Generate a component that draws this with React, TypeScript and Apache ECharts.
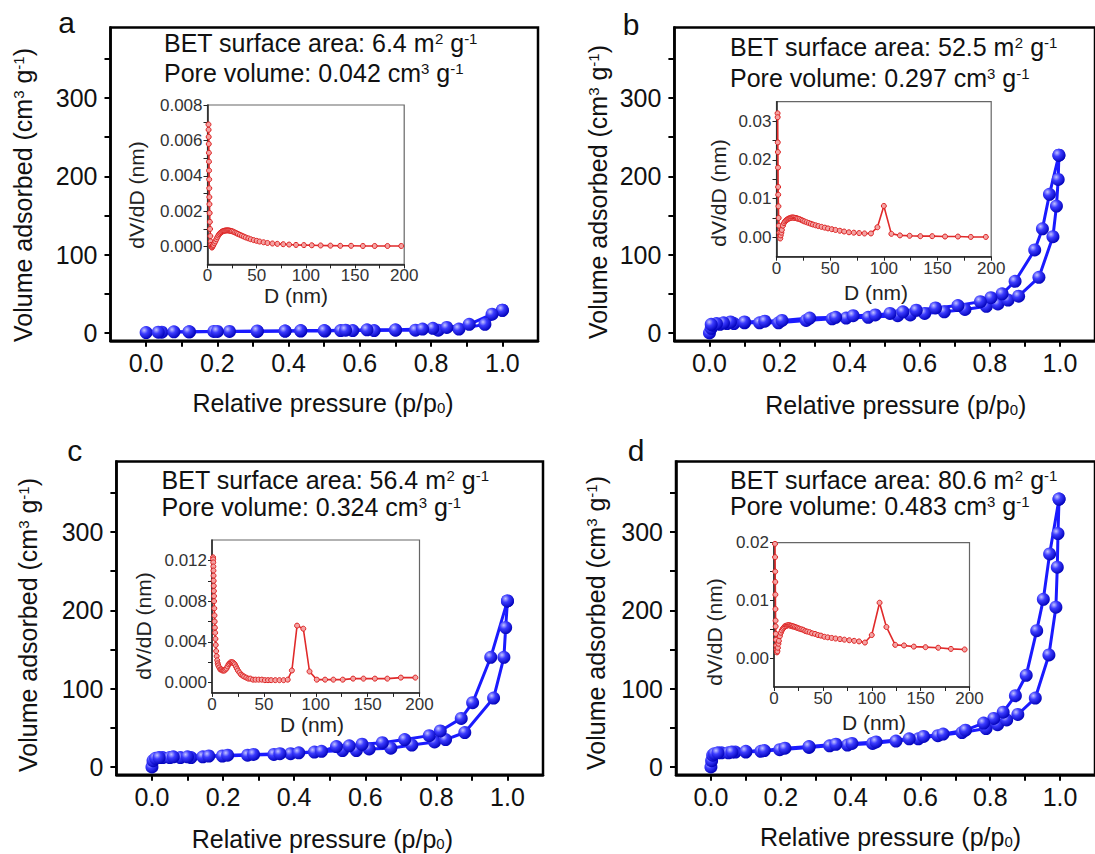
import React, { useEffect, useRef } from 'react';
import * as echarts from 'echarts';

const FONT = '"Liberation Sans", Arial, Helvetica, sans-serif';

// ---------- Isotherm data: [relative pressure, volume adsorbed] ----------
const adsA: number[][] = [[0,0.5],[0.044,1],[0.078,1.5],[0.122,1.5],[0.19,2],[0.234,2],[0.312,2],[0.39,2.5],[0.434,2.5],[0.502,2.5],[0.546,3],[0.58,3],[0.64,3],[0.70,3.5],[0.756,3.5],[0.82,3.5],[0.878,5],[0.951,11],[1.0,29]];
const desA: number[][] = [[1.0,29],[0.971,24],[0.907,11],[0.844,7],[0.805,6],[0.776,5],[0.70,4],[0.62,4],[0.56,3.5],[0.50,3],[0.434,3],[0.39,2.5],[0.312,2.5],[0.2,2],[0.12,1.5],[0.034,1]];

const adsB: number[][] = [[0,0],[0.005,6],[0.01,10],[0.03,11],[0.05,12],[0.07,12],[0.1,13],[0.143,13],[0.197,13],[0.276,16],[0.35,18],[0.39,19],[0.453,20],[0.537,22],[0.573,23],[0.614,25],[0.67,27],[0.729,30],[0.79,34],[0.823,37],[0.852,42],[0.882,47],[0.94,71],[0.98,123],[0.99,162],[0.995,196],[0.997,227]];
const desB: number[][] = [[0.997,227],[0.97,177],[0.95,133],[0.928,106],[0.872,66],[0.835,50],[0.803,45],[0.773,40],[0.709,35],[0.645,32],[0.59,29],[0.552,27],[0.515,25],[0.473,23],[0.41,22],[0.36,20],[0.286,19],[0.207,16],[0.158,15],[0.1,14],[0.06,14],[0.04,13],[0.02,12],[0.005,11]];

const adsC: number[][] = [[0,0],[0.003,8],[0.01,11],[0.03,12],[0.05,12],[0.08,12],[0.11,12],[0.143,13],[0.198,14],[0.269,15],[0.343,16],[0.39,17],[0.457,19],[0.536,21],[0.575,21],[0.611,23],[0.672,24],[0.731,28],[0.795,32],[0.826,35],[0.88,44],[0.961,88],[0.99,140],[0.995,178],[1.0,212]];
const desC: number[][] = [[1.0,212],[0.953,140],[0.902,82],[0.87,62],[0.811,46],[0.78,40],[0.711,35],[0.648,31],[0.591,29],[0.555,27],[0.519,26],[0.477,20],[0.413,18],[0.36,17],[0.286,16],[0.213,15],[0.16,14],[0.1,13],[0.06,13],[0.02,12]];

const adsD: number[][] = [[0,0],[0.002,8],[0.005,15],[0.01,17],[0.03,18],[0.05,18],[0.07,19],[0.1,19],[0.143,20],[0.197,22],[0.281,25],[0.34,27],[0.391,28],[0.463,30],[0.53,33],[0.594,36],[0.65,40],[0.719,44],[0.788,49],[0.821,54],[0.847,60],[0.879,67],[0.929,88],[0.968,143],[0.988,204],[0.992,255],[0.994,298],[0.997,342]];
const desD: number[][] = [[0.997,342],[0.97,272],[0.952,214],[0.933,174],[0.903,117],[0.872,91],[0.837,70],[0.81,62],[0.781,56],[0.729,47],[0.665,42],[0.609,39],[0.568,36],[0.473,32],[0.404,30],[0.358,29],[0.281,26],[0.212,24],[0.153,21],[0.1,20],[0.06,19],[0.02,18]];

// ---------- Pore size distribution data: [D (nm), dV/dD] ----------
const psdA: number[][] = [[1.0,0.0069],[1.1,0.0066],[1.2,0.0062],[1.3,0.0058],[1.4,0.0053],[1.5,0.0048],[1.6,0.0043],[1.7,0.0038],[1.8,0.0033],[1.9,0.0028],[2.0,0.0024],[2.2,0.0019],[2.4,0.0014],[2.6,0.001],[2.9,0.0006],[3.2,0.0003],[3.6,0.0001],[4,0.0],[4.5,-0.00005],[5,0.0],[5.5,0.00005],[6,0.0001],[7,0.0002],[8,0.0003],[9,0.00042],[10,0.00053],[11,0.00063],[12,0.00071],[13,0.00077],[14,0.00082],[15,0.00086],[16,0.00088],[17,0.0009],[18,0.00091],[19,0.00092],[20,0.00092],[21,0.00092],[22,0.00091],[23,0.0009],[24,0.00089],[25,0.00087],[26.5,0.00084],[28,0.0008],[29.5,0.00076],[31,0.00072],[33,0.00067],[35,0.00062],[37,0.00057],[39,0.00052],[41.5,0.00047],[44,0.00042],[47,0.00037],[50,0.00033],[53,0.00029],[57,0.00025],[61,0.00021],[66,0.00018],[71,0.00016],[77,0.00014],[83,0.00012],[90,0.0001],[98,0.00009],[106,0.00008],[115,0.00007],[125,0.00006],[135,0.00005],[146,0.00005],[158,0.00004],[170,0.00004],[183,0.00004],[197,0.00004]];
const psdB: number[][] = [[1.0,0.032],[1.1,0.031],[1.2,0.0245],[1.3,0.022],[1.4,0.018],[1.5,0.013],[1.6,0.011],[1.8,0.008],[2.0,0.005],[2.3,0.003],[2.6,0.0012],[3.0,0.0002],[3.5,-0.0003],[4,0.0005],[4.5,0.0012],[5,0.0019],[6,0.003],[7,0.0037],[8,0.0041],[9,0.0044],[10,0.0046],[11,0.0048],[12,0.0049],[13,0.005],[14,0.0051],[15,0.0051],[16,0.0051],[17,0.005],[18,0.005],[19,0.0049],[20,0.0048],[21.5,0.0047],[23,0.0045],[24.5,0.0043],[26,0.0041],[28,0.0039],[30,0.0037],[32,0.0035],[34,0.0033],[36.5,0.0031],[39,0.0029],[42,0.0027],[45,0.0025],[48,0.0023],[51.5,0.0021],[55,0.0019],[59,0.0017],[63,0.0015],[67.5,0.0013],[72,0.0012],[77,0.0011],[82,0.001],[88,0.001],[94,0.0026],[100,0.0081],[107,0.0009],[115,0.0005],[124,0.0004],[134,0.0003],[145,0.0003],[157,0.0002],[169,0.0002],[181,0.0001],[195,0.0001]];
const psdC: number[][] = [[1.0,0.0123],[1.1,0.0121],[1.2,0.0118],[1.3,0.0114],[1.4,0.011],[1.5,0.0105],[1.6,0.01],[1.7,0.0095],[1.8,0.009],[1.9,0.0085],[2.0,0.008],[2.2,0.0073],[2.4,0.0066],[2.6,0.006],[2.8,0.0054],[3.0,0.0049],[3.3,0.0043],[3.6,0.0037],[4.0,0.0031],[4.5,0.0026],[5,0.0022],[5.5,0.0019],[6,0.0017],[7,0.0015],[8,0.0013],[9,0.0013],[10,0.0012],[11,0.0012],[12,0.0012],[13,0.0013],[14,0.0014],[15,0.0016],[16,0.0018],[17,0.0019],[18,0.002],[19,0.002],[20,0.002],[21,0.0019],[22,0.0018],[23,0.0016],[24,0.0014],[25,0.0012],[26.5,0.001],[28,0.0008],[29.5,0.0007],[31,0.0006],[33,0.0005],[35,0.0004],[37,0.0004],[39.5,0.0003],[42,0.0003],[45,0.0003],[48,0.0003],[51,0.00025],[54,0.00025],[57,0.00025],[61,0.00025],[65,0.00025],[69,0.00025],[73,0.0003],[77,0.0012],[82,0.0056],[88,0.0053],[94,0.0011],[101,0.0003],[109,0.0003],[117,0.0003],[126,0.0003],[136,0.0004],[146,0.0004],[157,0.0004],[169,0.0004],[182,0.0005],[196,0.0005]];
const psdD: number[][] = [[1.0,0.0198],[1.1,0.0175],[1.2,0.015],[1.3,0.0132],[1.4,0.011],[1.5,0.0085],[1.6,0.0065],[1.7,0.0055],[1.9,0.0042],[2.1,0.0032],[2.3,0.0022],[2.6,0.0015],[3.0,0.001],[3.5,0.0012],[4,0.0018],[4.5,0.0025],[5,0.003],[6,0.0038],[7,0.0044],[8,0.0048],[9,0.0051],[10,0.0053],[11,0.0055],[12,0.0056],[13,0.0056],[14,0.0057],[15,0.0057],[16,0.0057],[17,0.0056],[18,0.0056],[19,0.0055],[20,0.0055],[21.5,0.0054],[23,0.0053],[24.5,0.0052],[26,0.0051],[28,0.005],[30,0.0049],[32,0.0047],[34,0.0046],[36.5,0.0045],[39,0.0043],[42,0.0042],[45,0.004],[48,0.0039],[51.5,0.0037],[55,0.0036],[59,0.0035],[63,0.0034],[67.5,0.0033],[72,0.0032],[77,0.0031],[82,0.003],[87,0.0029],[93,0.0027],[100,0.004],[108,0.0096],[115,0.0054],[124,0.0023],[133,0.0022],[143,0.002],[155,0.0019],[168,0.0018],[181,0.0016],[195,0.0015]];

// ---------- Ticks / labels ----------
const xTickValues = [0, 0.1, 0.2, 0.3, 0.4, 0.5, 0.6, 0.7, 0.8, 0.9, 1.0];
const xLabelValues = [0, 0.2, 0.4, 0.6, 0.8, 1.0];
const yTickValues = [0, 50, 100, 150, 200, 250, 300, 350];
const yLabelValues = [0, 100, 200, 300];
const insetXTickValues = [0, 25, 50, 75, 100, 125, 150, 175, 200];
const insetXLabelValues = [0, 50, 100, 150, 200];
const insetYRanges = [[-0.001, 0.008], [-0.005, 0.035], [-0.001, 0.014], [-0.005, 0.02]];
const insetYTicks = [
  [0, 0.001, 0.002, 0.003, 0.004, 0.005, 0.006, 0.007, 0.008],
  [0, 0.005, 0.01, 0.015, 0.02, 0.025, 0.03],
  [0, 0.002, 0.004, 0.006, 0.008, 0.01, 0.012],
  [0, 0.005, 0.01, 0.015, 0.02],
];
const insetYLabels = [
  [0, 0.002, 0.004, 0.006, 0.008],
  [0, 0.01, 0.02, 0.03],
  [0, 0.004, 0.008, 0.012],
  [0, 0.01, 0.02],
];
const insetYDecimals = [3, 2, 3, 2];

const panelLetters = ['a', 'b', 'c', 'd'];
const betAreas = ['6.4', '52.5', '56.4', '80.6'];
const poreVolumes = ['0.042', '0.297', '0.324', '0.483'];

const isotherms = [[adsA, desA], [adsB, desB], [adsC, desC], [adsD, desD]];
const psds = [psdA, psdB, psdC, psdD];

// ---------- Layout (pixels) ----------
const mainGrids = [
  { left: 110.5, top: 27.5, width: 427.5, height: 313.3 },
  { left: 674.4, top: 27.5, width: 427.1, height: 313.3 },
  { left: 116.4, top: 461.5, width: 426.6, height: 313.3 },
  { left: 676, top: 461.5, width: 427.2, height: 313.3 },
];
const insetGrids = [
  { left: 207.5, top: 105, width: 196.7, height: 159.4 },
  { left: 776.5, top: 101.7, width: 214.7, height: 155 },
  { left: 212, top: 540, width: 207.5, height: 152.9 },
  { left: 774, top: 542.7, width: 195.5, height: 144.3 },
];
const letterPos = [[66.7, 22], [631, 24], [74.7, 450], [636, 450]];
const notePos = [[164, 43, 73], [730, 47, 78], [161.6, 480, 507], [730, 480, 506]];
const yTitlePos = [[22.6, 195], [597.6, 192], [27.8, 625], [595.9, 623]];
const xTitlePos = [[323, 403], [895.8, 405], [322.4, 839], [890.5, 837]];
const insetYTitlePos = [[136, 195], [718, 193], [143, 626], [714, 632]];
const insetXTitlePos = [[296, 295.5], [876, 292], [312, 724.5], [874, 722]];

const TXT = '#111';
const BLUE = '#1a1aff';
const RED = '#e02a2a';

const rich = {
  m: { fontSize: 25, fontFamily: FONT, fill: TXT, lineHeight: 24 },
  s: { fontSize: 15, fontFamily: FONT, fill: TXT, lineHeight: 8, verticalAlign: 'top' },
  b: { fontSize: 15, fontFamily: FONT, fill: TXT, lineHeight: 10, verticalAlign: 'bottom' },
};

function buildOption(): any {
  const grid: any[] = [];
  const xAxis: any[] = [];
  const yAxis: any[] = [];
  const series: any[] = [];
  const graphic: any[] = [];

  const sphere = {
    type: 'radial', x: 0.35, y: 0.32, r: 0.72,
    colorStops: [
      { offset: 0, color: '#c4c4ff' },
      { offset: 0.4, color: '#3c3cff' },
      { offset: 1, color: '#0000b8' },
    ],
  };

  for (let i = 0; i < 4; i++) {
    grid.push({ ...mainGrids[i], show: true, borderColor: '#000', borderWidth: 2.5, backgroundColor: 'transparent', containLabel: false });
    xAxis.push({
      type: 'value', gridIndex: i, min: -0.1, max: 1.1,
      axisLine: { show: true, onZero: false, lineStyle: { color: '#000', width: 2.5 } },
      axisTick: { show: true, customValues: xTickValues, length: 6, lineStyle: { color: '#000', width: 2 } },
      axisLabel: { customValues: xLabelValues, formatter: (v: number) => v.toFixed(1), fontSize: 25, fontFamily: FONT, color: TXT, margin: 10 },
      splitLine: { show: false },
    });
    yAxis.push({
      type: 'value', gridIndex: i, min: -10, max: 390,
      axisLine: { show: true, onZero: false, lineStyle: { color: '#000', width: 2.5 } },
      axisTick: { show: true, customValues: yTickValues, length: 6, lineStyle: { color: '#000', width: 2 } },
      axisLabel: { customValues: yLabelValues, formatter: (v: number) => String(Math.round(v)), fontSize: 25, fontFamily: FONT, color: TXT, margin: 13 },
      splitLine: { show: false },
    });
    isotherms[i].forEach((d, k) => {
      series.push({
        type: 'line', name: (k === 0 ? 'adsorption ' : 'desorption ') + panelLetters[i],
        xAxisIndex: i, yAxisIndex: i, data: d,
        symbol: 'circle', symbolSize: 13, silent: true, z: 3,
        lineStyle: { color: BLUE, width: 3 },
        itemStyle: { color: sphere, borderWidth: 0 },
      });
    });
  }

  for (let i = 0; i < 4; i++) {
    const gi = 4 + i;
    grid.push({ ...insetGrids[i], show: true, borderColor: '#666', borderWidth: 1.2, backgroundColor: '#fff', containLabel: false });
    xAxis.push({
      type: 'value', gridIndex: gi, min: 0, max: 200,
      axisLine: { show: true, onZero: false, lineStyle: { color: '#222', width: 1.5 } },
      axisTick: { show: true, customValues: insetXTickValues, length: 4, lineStyle: { color: '#222', width: 1 } },
      axisLabel: { customValues: insetXLabelValues, formatter: (v: number) => String(Math.round(v)), fontSize: 17, lineHeight: 17, fontFamily: FONT, color: '#333', margin: 3 },
      splitLine: { show: false },
    });
    yAxis.push({
      type: 'value', gridIndex: gi, min: insetYRanges[i][0], max: insetYRanges[i][1],
      axisLine: { show: true, onZero: false, lineStyle: { color: '#222', width: 1.5 } },
      axisTick: { show: true, customValues: insetYTicks[i], length: 4, lineStyle: { color: '#222', width: 1 } },
      axisLabel: { customValues: insetYLabels[i], formatter: (v: number) => v.toFixed(insetYDecimals[i]), fontSize: 17, lineHeight: 17, fontFamily: FONT, color: '#333', margin: 5 },
      splitLine: { show: false },
    });
    series.push({
      type: 'line', name: 'PSD ' + panelLetters[i],
      xAxisIndex: gi, yAxisIndex: gi, data: psds[i],
      symbol: 'circle', symbolSize: 5, silent: true, z: 5,
      lineStyle: { color: RED, width: 1.6 },
      itemStyle: { color: '#f4a3a3', borderColor: '#dd2222', borderWidth: 1 },
    });
  }

  for (let i = 0; i < 4; i++) {
    graphic.push({
      type: 'text', x: letterPos[i][0], y: letterPos[i][1], z: 10,
      style: { text: panelLetters[i], fontSize: 30, fontFamily: FONT, fill: TXT, align: 'center', verticalAlign: 'middle' },
    });
    graphic.push({
      type: 'text', x: notePos[i][0], y: notePos[i][1], z: 10,
      style: { text: `{m|BET surface area: ${betAreas[i]} m}{s|2}{m| g}{s|-1}`, rich, align: 'left', verticalAlign: 'middle' },
    });
    graphic.push({
      type: 'text', x: notePos[i][0], y: notePos[i][2], z: 10,
      style: { text: `{m|Pore volume: ${poreVolumes[i]} cm}{s|3}{m| g}{s|-1}`, rich, align: 'left', verticalAlign: 'middle' },
    });
    graphic.push({
      type: 'text', x: yTitlePos[i][0], y: yTitlePos[i][1], rotation: Math.PI / 2, z: 10,
      style: { text: '{m|Volume adsorbed (cm}{s|3}{m| g}{s|-1}{m|)}', rich, align: 'center', verticalAlign: 'middle' },
    });
    graphic.push({
      type: 'text', x: xTitlePos[i][0], y: xTitlePos[i][1], z: 10,
      style: { text: '{m|Relative pressure (p/p}{b|0}{m|)}', rich, align: 'center', verticalAlign: 'middle' },
    });
    graphic.push({
      type: 'text', x: insetYTitlePos[i][0], y: insetYTitlePos[i][1], rotation: Math.PI / 2, z: 10,
      style: { text: 'dV/dD (nm)', fontSize: 21, lineHeight: 20, fontFamily: FONT, fill: '#222', align: 'center', verticalAlign: 'middle' },
    });
    graphic.push({
      type: 'text', x: insetXTitlePos[i][0], y: insetXTitlePos[i][1], z: 10,
      style: { text: 'D (nm)', fontSize: 21, lineHeight: 20, fontFamily: FONT, fill: '#222', align: 'center', verticalAlign: 'middle' },
    });
  }

  return { animation: false, backgroundColor: '#fff', grid, xAxis, yAxis, series, graphic };
}

export default function App() {
  const ref = useRef<HTMLDivElement>(null);
  useEffect(() => {
    if (!ref.current) return;
    const chart = echarts.init(ref.current, null, { renderer: 'svg' });
    chart.setOption(buildOption());
    return () => chart.dispose();
  }, []);
  return (
    <div
      ref={ref}
      style={{ position: 'absolute', left: 0, top: 0, width: 1095, height: 854, background: '#fff' }}
    />
  );
}
